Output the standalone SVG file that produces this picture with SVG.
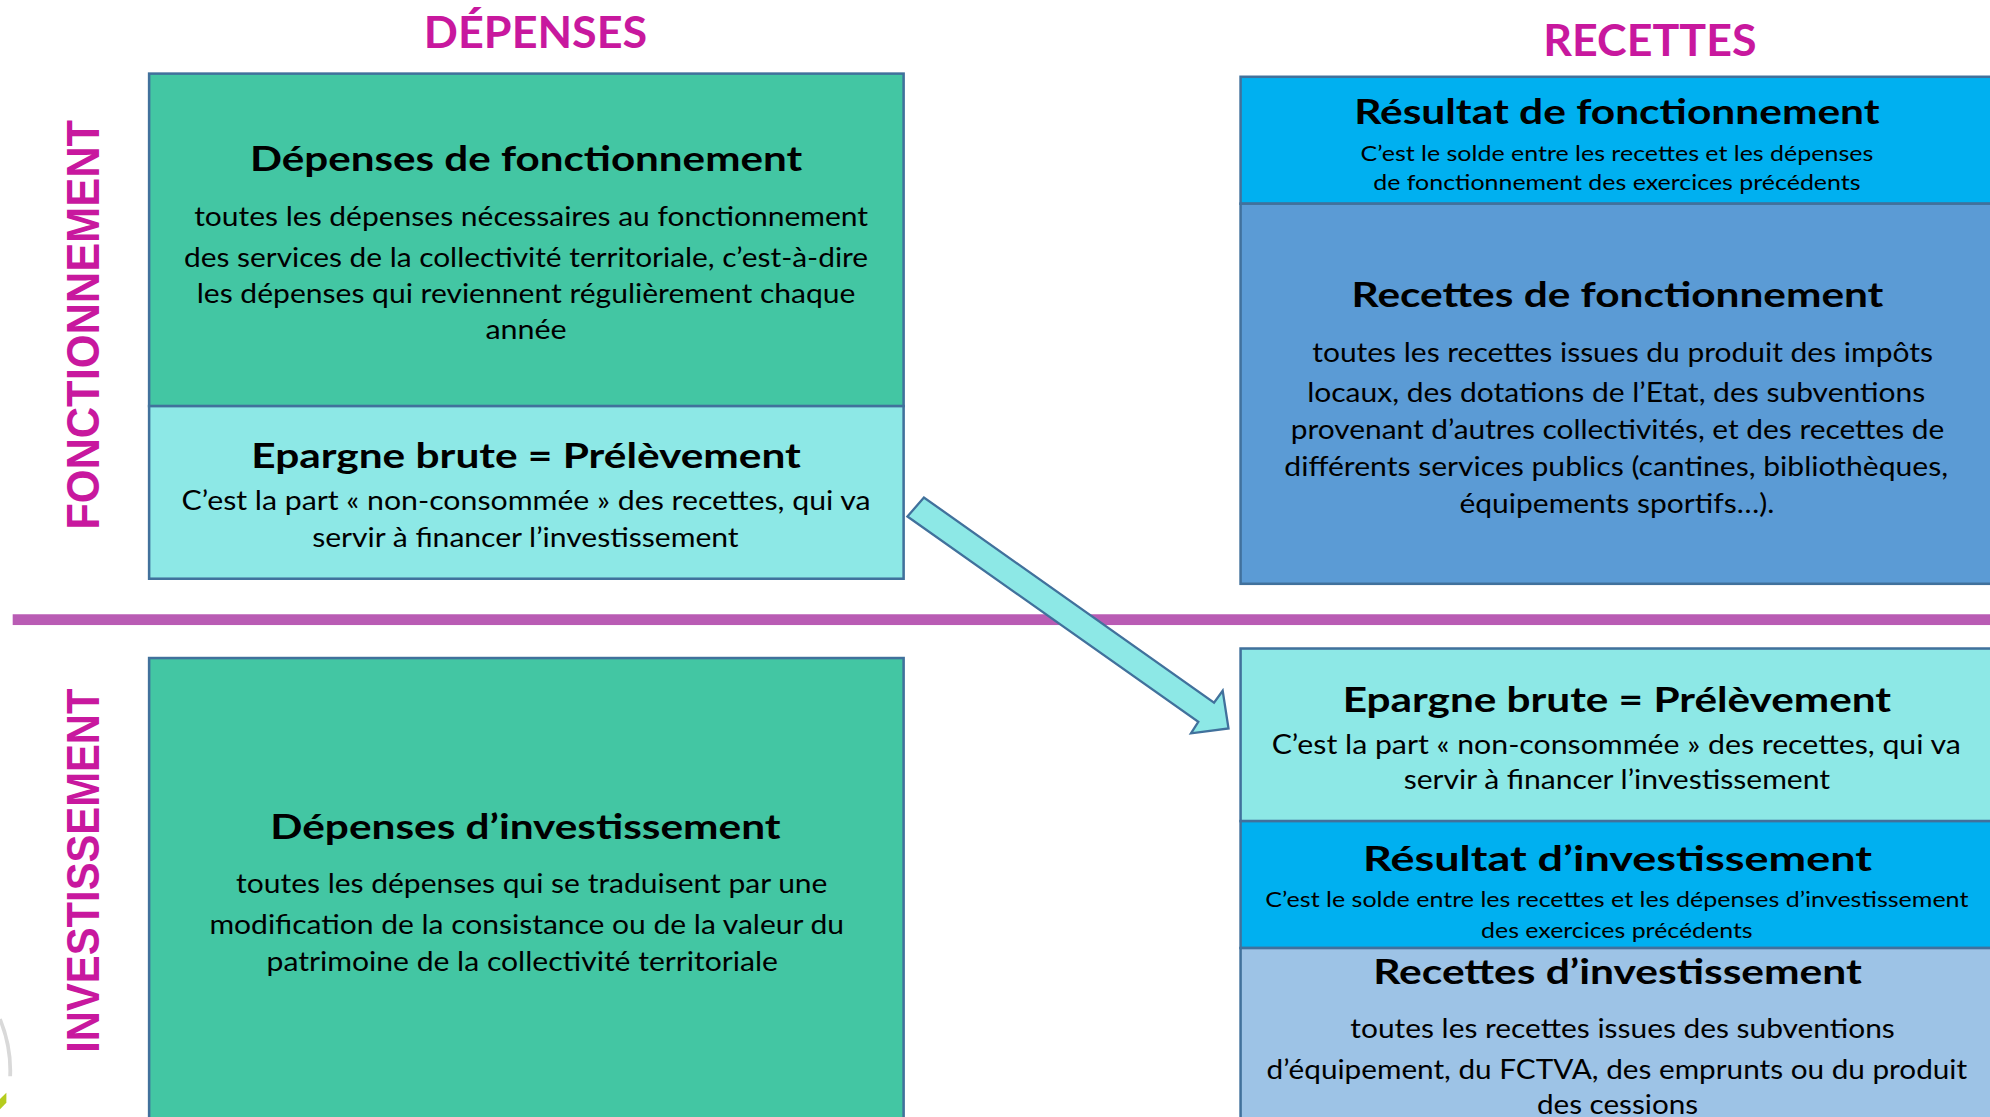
<svg xmlns="http://www.w3.org/2000/svg" width="1990" height="1117" viewBox="0 0 1990 1117">
<style>
.t{font-family:Lato,"Open Sans","Liberation Sans",sans-serif;fill:#000;text-anchor:middle}
.h{font-weight:700;font-size:27px}
.b{font-size:21px}
.s{font-size:16.5px}
.mag{font-family:Lato,"Liberation Sans",sans-serif;font-weight:700;fill:#C8189E;text-anchor:middle}
.side{font-family:"Liberation Sans",Arial,sans-serif;font-weight:700;fill:#C8189E;text-anchor:middle;font-size:36px}
.box{stroke:#41719C;stroke-width:2}
.green{fill:#43C6A3}
.cyan{fill:#8DE8E6}
.blue{fill:#00B0F0}
.mid{fill:#5B9BD5}
.light{fill:#9DC3E6}
</style>
<rect width="1990" height="1117" fill="#fff"/>
<g transform="scale(1.26913)">
  <g id="headers">
    <text class="mag" x="422" y="38" font-size="35" textLength="176" lengthAdjust="spacingAndGlyphs">DÉPENSES</text>
    <text class="mag" x="1300" y="44" font-size="35" textLength="168" lengthAdjust="spacingAndGlyphs">RECETTES</text>
    <text class="side" transform="translate(78,256) rotate(-90)" textLength="323" lengthAdjust="spacingAndGlyphs">FONCTIONNEMENT</text>
    <text class="side" transform="translate(78,686) rotate(-90)" textLength="287" lengthAdjust="spacingAndGlyphs">INVESTISSEMENT</text>
  </g>
  <g id="separator">
    <rect x="10" y="484" width="1560" height="8.5" fill="#B95CB4"/>
  </g>
  <g id="logo-fragment">
    <path d="M0,803 Q9,825 8,848" fill="none" stroke="#d9d9d9" stroke-width="3"/>
    <path d="M0,866 L5,861 L5,869 L0,874 Z" fill="#B5CC1E"/>
  </g>

  <g id="depenses-fonctionnement">
    <rect class="box green" x="117.5" y="58" width="594.5" height="262"/>
    <text class="t h" x="414.5" y="135" textLength="435" lengthAdjust="spacingAndGlyphs">Dépenses de fonctionnement</text>
    <text class="t b" x="418.5" y="178" textLength="531" lengthAdjust="spacingAndGlyphs">toutes les dépenses nécessaires au fonctionnement</text>
    <text class="t b" x="414.5" y="210" textLength="539" lengthAdjust="spacingAndGlyphs">des services de la collectivité territoriale, c’est-à-dire</text>
    <text class="t b" x="414.5" y="239" textLength="519" lengthAdjust="spacingAndGlyphs">les dépenses qui reviennent régulièrement chaque</text>
    <text class="t b" x="414.5" y="267" textLength="64" lengthAdjust="spacingAndGlyphs">année</text>
  </g>
  <g id="epargne-depenses">
    <rect class="box cyan" x="117.5" y="320" width="594.5" height="136"/>
    <text class="t h" x="414.5" y="369" textLength="433" lengthAdjust="spacingAndGlyphs">Epargne brute = Prélèvement</text>
    <text class="t b" x="414.5" y="402" textLength="543" lengthAdjust="spacingAndGlyphs">C’est la part « non-consommée » des recettes, qui va</text>
    <text class="t b" x="414" y="431" textLength="336" lengthAdjust="spacingAndGlyphs">servir à financer l’investissement</text>
  </g>
  <g id="depenses-investissement">
    <rect class="box green" x="117.5" y="518.5" width="594.5" height="380"/>
    <text class="t h" x="414" y="661" textLength="402" lengthAdjust="spacingAndGlyphs">Dépenses d’investissement</text>
    <text class="t b" x="419" y="704" textLength="466" lengthAdjust="spacingAndGlyphs">toutes les dépenses qui se traduisent par une</text>
    <text class="t b" x="415" y="736" textLength="500" lengthAdjust="spacingAndGlyphs">modification de la consistance ou de la valeur du</text>
    <text class="t b" x="411.5" y="765" textLength="403" lengthAdjust="spacingAndGlyphs">patrimoine de la collectivité territoriale</text>
  </g>

  <g id="resultat-fonctionnement">
    <rect class="box blue" x="977.5" y="60.5" width="620" height="100"/>
    <text class="t h" x="1274" y="98" textLength="414" lengthAdjust="spacingAndGlyphs">Résultat de fonctionnement</text>
    <text class="t s" x="1274" y="127" textLength="404" lengthAdjust="spacingAndGlyphs">C’est le solde entre les recettes et les dépenses</text>
    <text class="t s" x="1274" y="150" textLength="384" lengthAdjust="spacingAndGlyphs">de fonctionnement des exercices précédents</text>
  </g>
  <g id="recettes-fonctionnement">
    <rect class="box mid" x="977.5" y="160.5" width="620" height="299.5"/>
    <text class="t h" x="1274.5" y="242" textLength="419" lengthAdjust="spacingAndGlyphs">Recettes de fonctionnement</text>
    <text class="t b" x="1278.5" y="285" textLength="489" lengthAdjust="spacingAndGlyphs">toutes les recettes issues du produit des impôts</text>
    <text class="t b" x="1273.5" y="317" textLength="487" lengthAdjust="spacingAndGlyphs">locaux, des dotations de l’Etat, des subventions</text>
    <text class="t b" x="1274.5" y="346" textLength="515" lengthAdjust="spacingAndGlyphs">provenant d’autres collectivités, et des recettes de</text>
    <text class="t b" x="1273.5" y="375" textLength="523" lengthAdjust="spacingAndGlyphs">différents services publics (cantines, bibliothèques,</text>
    <text class="t b" x="1274" y="404" textLength="248" lengthAdjust="spacingAndGlyphs">équipements sportifs…).</text>
  </g>

  <g id="epargne-recettes">
    <rect class="box cyan" x="977.5" y="511" width="620" height="136"/>
    <text class="t h" x="1274" y="561" textLength="432" lengthAdjust="spacingAndGlyphs">Epargne brute = Prélèvement</text>
    <text class="t b" x="1273.5" y="594" textLength="543" lengthAdjust="spacingAndGlyphs">C’est la part « non-consommée » des recettes, qui va</text>
    <text class="t b" x="1274" y="622" textLength="336" lengthAdjust="spacingAndGlyphs">servir à financer l’investissement</text>
  </g>
  <g id="resultat-investissement">
    <rect class="box blue" x="977.5" y="647" width="620" height="100"/>
    <text class="t h" x="1274.5" y="686" font-size="30" textLength="401" lengthAdjust="spacingAndGlyphs">Résultat d’investissement</text>
    <text class="t s" x="1274" y="715" textLength="554" lengthAdjust="spacingAndGlyphs">C’est le solde entre les recettes et les dépenses d’investissement</text>
    <text class="t s" x="1274" y="739" textLength="214" lengthAdjust="spacingAndGlyphs">des exercices précédents</text>
  </g>
  <g id="recettes-investissement">
    <rect class="box light" x="977.5" y="747" width="620" height="160"/>
    <text class="t h" x="1274.5" y="775" textLength="385" lengthAdjust="spacingAndGlyphs">Recettes d’investissement</text>
    <text class="t b" x="1278.5" y="818" textLength="429" lengthAdjust="spacingAndGlyphs">toutes les recettes issues des subventions</text>
    <text class="t b" x="1274" y="850" textLength="552" lengthAdjust="spacingAndGlyphs">d’équipement, du FCTVA, des emprunts ou du produit</text>
    <text class="t b" x="1274.5" y="878" textLength="127" lengthAdjust="spacingAndGlyphs">des cessions</text>
  </g>

  <g id="connectors">
    <polygon points="715,407 728,392 956.6,553.7 963.4,544.3 968,574 938.4,577.8 944.2,568.7" fill="#8DE8E6" stroke="#41719C" stroke-width="1.8" stroke-linejoin="miter"/>
  </g>
</g>
</svg>
